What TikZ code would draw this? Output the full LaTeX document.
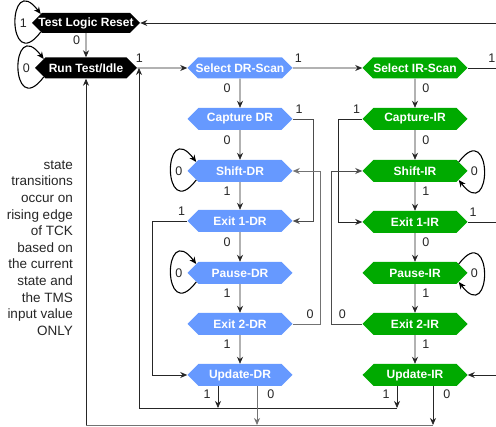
\documentclass[tikz,border=0pt]{standalone}
\usepackage{fontspec}
\setmainfont{Liberation Sans}
\usetikzlibrary{arrows.meta,shapes.symbols}
\definecolor{drblue}{RGB}{102,153,255}
\definecolor{irgreen}{RGB}{0,170,0}
\tikzset{
    tapstate/.style={shape=signal, signal to=west and east, minimum width=105pt, minimum height=22pt,
        inner xsep=-12pt, inner ysep=0pt, text=white, font=\fontsize{12}{14}\selectfont\bfseries}, % hexagon box
    tapblack/.style={tapstate, fill=black, minimum height=21pt},
    drstate/.style={tapstate, fill=drblue},
    irstate/.style={tapstate, fill=irgreen},
    wire/.style={draw=black!85, line width=0.75pt},
    arr/.style={wire, -{Stealth[length=7pt,width=6pt]}}, % connector with tip
    selfloop/.style={arr, draw=black, line width=1.1pt},
    lbl/.style={font=\fontsize{12.5}{14}\selectfont, inner sep=1pt, text=black!85}
}

\begin{document}
\begin{tikzpicture}[x=1pt, y=1pt]
    \useasboundingbox (0,0) rectangle (496,-427);
    \coordinate (edge) at (498,0);
    \coordinate (updbus) at (139,-408);
    \coordinate (rtibus) at (86,-425);

    % states
    \node[tapblack, minimum width=108pt, minimum height=20pt] (tlr) at (86,-23) {Test Logic Reset};
    \node[tapblack, minimum width=102pt] (rti) at (86,-68) {Run Test/Idle};
    \node[drstate, minimum height=21pt] (seldr) at (240,-68) {Select DR-Scan};
    \node[irstate, minimum height=21pt] (selir) at (415,-68) {Select IR-Scan};
    \node[drstate] (capdr) at (240,-119) {Capture DR};
    \node[drstate] (shdr)  at (240,-171) {Shift-DR};
    \node[drstate] (ex1dr) at (240,-221) {Exit 1-DR};
    \node[drstate] (pdr)   at (240,-273) {Pause-DR};
    \node[drstate] (ex2dr) at (240,-324) {Exit 2-DR};
    \node[drstate] (upddr) at (240,-375) {Update-DR};
    \node[irstate] (capir) at (415,-119) {Capture-IR};
    \node[irstate] (shir)  at (415,-171) {Shift-IR};
    \node[irstate] (ex1ir) at (415,-222) {Exit 1-IR};
    \node[irstate] (pir)   at (415,-273) {Pause-IR};
    \node[irstate] (ex2ir) at (415,-324) {Exit 2-IR};
    \node[irstate] (updir) at (415,-375) {Update-IR};

    \node[align=right, anchor=east, inner sep=0pt, text=black!85,
        font=\fontsize{13.5}{16.6}\selectfont] (rule) at (73,-248)
        {state\\transitions\\occur on\\rising edge\\of TCK\\based on\\the current\\state and\\the TMS\\input value\\ONLY};

    % top rows
    \draw[arr] (tlr) -- node[lbl, left=4.5pt, pos=0.3] {0} (rti);
    \draw[arr] (rti) -- node[lbl, above=4.5pt, pos=0.04] {1} (seldr);
    \draw[arr] (seldr) -- node[lbl, above=4.5pt, pos=0.08] {1} (selir);
    \draw[arr] (selir.east) -- node[lbl, above=4.5pt, pos=0.8] {1} (selir.east -| edge) |- (tlr.east);

    % columns
    \foreach \a/\b/\v in {seldr/capdr/0, capdr/shdr/0, shdr/ex1dr/1, ex1dr/pdr/0, pdr/ex2dr/1, ex2dr/upddr/1}
        \draw[arr] (\a) -- node[lbl, left=8pt, pos=0.33] {\v} (\b);
    \foreach \a/\b/\v in {selir/capir/0, capir/shir/0, shir/ex1ir/1, ex1ir/pir/0, pir/ex2ir/1, ex2ir/updir/1}
        \draw[arr] (\a) -- node[lbl, right=6pt, pos=0.33] {\v} (\b);

    % self loops
    \foreach \n/\v in {tlr/1, rti/0, shdr/0, pdr/0}
        \draw[selfloop] ([shift={(9pt,-9pt)}]\n.west) .. controls +(-34,-45) and +(-34,45) .. node[lbl, right=3pt] {\v} ([shift={(9pt,9pt)}]\n.west);
    \foreach \n in {shir, pir}
        \draw[selfloop] ([shift={(-9pt,9pt)}]\n.east) .. controls +(34,45) and +(34,-45) .. node[lbl, left=5pt] {0} ([shift={(-9pt,-9pt)}]\n.east);

    % side branches
    \draw[arr, draw=black!70] (capdr.east) -- node[lbl, above=4.5pt, pos=0.3] {1} ++(21,0) |- (ex1dr.east);
    \draw[arr, draw=black!55] (ex2dr.east) -- node[lbl, above=4.5pt, pos=0.62] {0} ++(28,0) |- (shdr.east);
    \draw[arr] (ex1dr.west) -- node[lbl, above=4.5pt, pos=0.16] {1} ++(-34.5,0) |- (upddr.west);
    \draw[arr] (capir.west) -- node[lbl, above=4.5pt, pos=0.23] {1} ++(-24,0) |- (ex1ir.west);
    \draw[arr, draw=black!70] (ex2ir.west) -- node[lbl, above=4.5pt, pos=0.64] {0} ++(-31,0) |- (shir.west);
    \draw[arr] (ex1ir.east) -- node[lbl, above=4.5pt, pos=0.18] {1} (ex1ir.east -| edge) |- (updir.east);

    % update exits
    \draw[arr] ([xshift=-22pt]upddr.south) -- node[lbl, left=6pt, pos=0.36] {1} ([xshift=-22pt]upddr.south |- updbus);
    \draw[arr] ([xshift=-18pt]updir.south) -- node[lbl, left=6pt, pos=0.36] {1} ([xshift=-18pt]updir.south |- updbus);
    \draw[arr] ([xshift=-18pt]updir.south |- updbus) -- (updbus) -- (updbus |- rti.east);
    \draw[arr, draw=black!55] ([xshift=17pt]upddr.south) -- node[lbl, right=9pt, pos=0.2] {0} ([xshift=17pt]upddr.south |- rtibus);
    \draw[arr] ([xshift=18pt]updir.south) -- node[lbl, right=9pt, pos=0.2] {0} ([xshift=18pt]updir.south |- rtibus);
    \draw[wire, draw=black!55] ([xshift=18pt]updir.south |- rtibus) -- (rtibus);
    \draw[arr] (rtibus) -- (rti);
\end{tikzpicture}
\end{document}
